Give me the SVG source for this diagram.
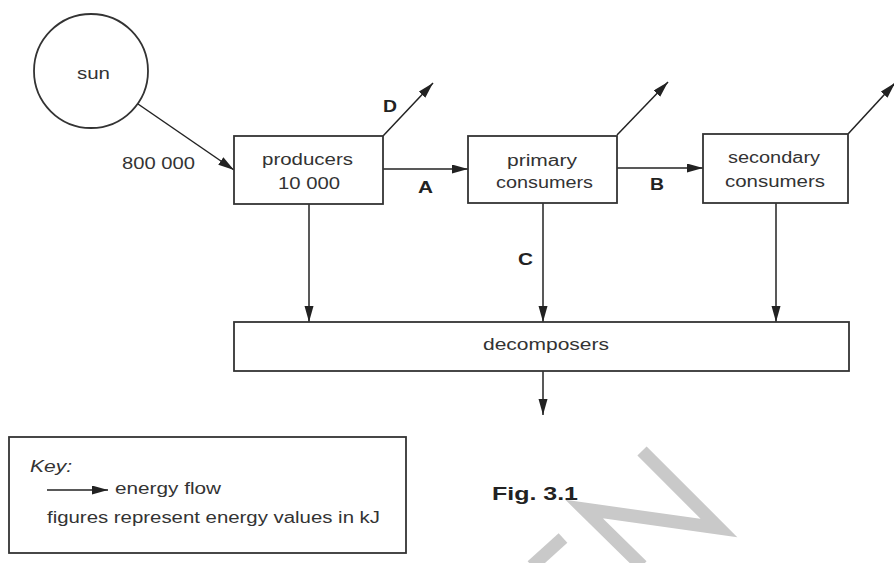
<svg xmlns="http://www.w3.org/2000/svg" width="894" height="563" viewBox="0 0 894 563">
<defs>
<marker id="ah" markerUnits="userSpaceOnUse" markerWidth="17" markerHeight="10" refX="16" refY="4.5" orient="auto">
<path d="M0,0 L16,4.5 L0,9 z" fill="#222"/>
</marker>
<style>
.bx{fill:#fff;stroke:#333;stroke-width:1.8}
.ln{fill:none;stroke:#222;stroke-width:1.5;marker-end:url(#ah)}
.t{font-family:"Liberation Sans",Arial,sans-serif;font-size:16px;fill:#333}
.b{font-weight:bold;fill:#222}
.wm{fill:none;stroke:#c9c9c9;stroke-width:13;stroke-linecap:butt;stroke-linejoin:miter}
</style>
</defs>
<rect width="894" height="563" fill="#fff"/>
<g id="watermark">
<polyline class="wm" points="642,451 719,528 584,509 642,566"/>
<polyline class="wm" points="563,538 532,566"/>
</g>
<g id="connectors">
<line class="ln" x1="138" y1="104" x2="234" y2="170"/>
<line class="ln" x1="383" y1="136" x2="433" y2="83"/>
<line class="ln" x1="383" y1="169" x2="468" y2="169"/>
<line class="ln" x1="617" y1="135" x2="668" y2="82"/>
<line class="ln" x1="617" y1="168" x2="703" y2="168"/>
<line class="ln" x1="848" y1="134" x2="895" y2="83"/>
<line class="ln" x1="309" y1="204" x2="309" y2="322"/>
<line class="ln" x1="543" y1="203" x2="543" y2="322"/>
<line class="ln" x1="776" y1="203" x2="776" y2="322"/>
<line class="ln" x1="543" y1="371" x2="543" y2="415"/>
</g>
<g id="sun">
<circle cx="91" cy="71" r="57" class="bx"/>
<text class="t" x="77" y="79" textLength="33" lengthAdjust="spacingAndGlyphs">sun</text>
</g>
<text class="t" x="122" y="169" textLength="73" lengthAdjust="spacingAndGlyphs">800 000</text>
<g id="producers">
<rect class="bx" x="234" y="136" width="149" height="68"/>
<text class="t" x="262" y="165" textLength="91" lengthAdjust="spacingAndGlyphs">producers</text>
<text class="t" x="278" y="189" textLength="62" lengthAdjust="spacingAndGlyphs">10 000</text>
</g>
<g id="primary">
<rect class="bx" x="468" y="136" width="149" height="67"/>
<text class="t" x="507" y="166" textLength="70" lengthAdjust="spacingAndGlyphs">primary</text>
<text class="t" x="496" y="188" textLength="97" lengthAdjust="spacingAndGlyphs">consumers</text>
</g>
<g id="secondary">
<rect class="bx" x="703" y="134" width="145" height="69"/>
<text class="t" x="728" y="163" textLength="92" lengthAdjust="spacingAndGlyphs">secondary</text>
<text class="t" x="725" y="187" textLength="100" lengthAdjust="spacingAndGlyphs">consumers</text>
</g>
<g id="decomposers">
<rect class="bx" x="234" y="322" width="615" height="49"/>
<text class="t" x="483" y="350" textLength="126" lengthAdjust="spacingAndGlyphs">decomposers</text>
</g>
<g id="labels">
<text class="t b" x="383" y="112" textLength="14" lengthAdjust="spacingAndGlyphs">D</text>
<text class="t b" x="418" y="193" textLength="15" lengthAdjust="spacingAndGlyphs">A</text>
<text class="t b" x="650" y="190" textLength="14" lengthAdjust="spacingAndGlyphs">B</text>
<text class="t b" x="518" y="265" textLength="15" lengthAdjust="spacingAndGlyphs">C</text>
</g>
<g id="key">
<rect class="bx" x="9" y="437" width="397" height="116"/>
<text class="t" x="30" y="472" font-style="italic" textLength="42" lengthAdjust="spacingAndGlyphs">Key:</text>
<line class="ln" x1="47" y1="490" x2="108" y2="490"/>
<text class="t" x="115" y="494" textLength="106" lengthAdjust="spacingAndGlyphs">energy flow</text>
<text class="t" x="47" y="523" textLength="333" lengthAdjust="spacingAndGlyphs">figures represent energy values in kJ</text>
</g>
<text class="t b" x="492" y="500" font-size="19" style="font-size:19px" textLength="86" lengthAdjust="spacingAndGlyphs">Fig. 3.1</text>
</svg>
